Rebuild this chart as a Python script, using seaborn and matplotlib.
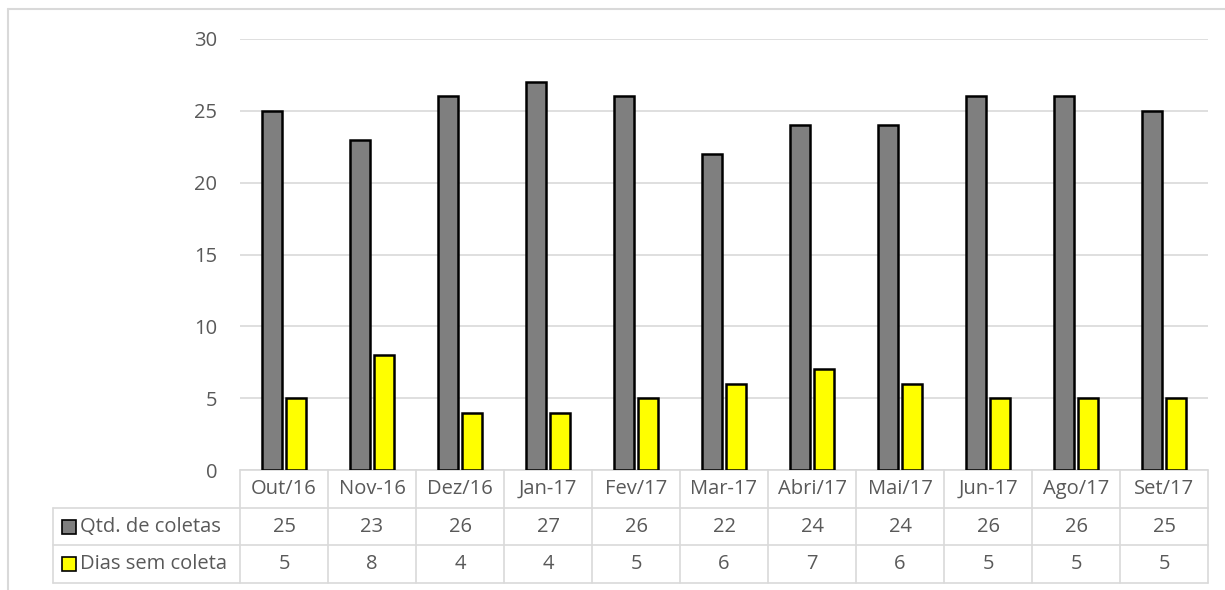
import matplotlib
matplotlib.use('Agg')
import matplotlib.pyplot as plt
import matplotlib.patches as mpatches
import numpy as np
import pandas as pd
import seaborn as sns

meses = ['Out/16', 'Nov-16', 'Dez/16', 'Jan-17', 'Fev/17', 'Mar-17', 'Abri/17',
         'Mai/17', 'Jun-17', 'Ago/17', 'Set/17']
qtd_coletas = [25, 23, 26, 27, 26, 22, 24, 24, 26, 26, 25]
dias_sem_coleta = [5, 8, 4, 4, 5, 6, 7, 6, 5, 5, 5]
series = ['Qtd. de coletas', 'Dias sem coleta']
cores = ['#7f7f7f', '#ffff00']

df = pd.DataFrame({'mes': meses * 2,
                   'valor': qtd_coletas + dias_sem_coleta,
                   'serie': [series[0]] * len(meses) + [series[1]] * len(meses)})

sns.set_style('white')
plt.rcParams['font.family'] = ['Open Sans', 'DejaVu Sans']
txt_col = '#595959'
grid_col = '#d9d9d9'
fs = 14.5

W, H = 1225, 590
fig = plt.figure(figsize=(W / 100, H / 100), dpi=100)
ax = fig.add_axes([240 / W, (H - 470) / H, 968 / W, 431 / H])

sns.barplot(data=df, x='mes', y='valor', hue='serie', order=meses, hue_order=series,
            palette=cores, saturation=1, edgecolor='black', linewidth=1.8, width=0.56, gap=0.18,
            legend=False, ax=ax, zorder=3)

ax.set_ylim(0, 30)
ax.set_xlim(-0.5, len(meses) - 0.5)
ax.set_yticks(range(0, 31, 5))
ax.yaxis.grid(True, color=grid_col, linewidth=1.2, zorder=0)
ax.set_axisbelow(True)
for s in ax.spines.values():
    s.set_visible(False)
ax.tick_params(axis='y', length=0, pad=16.5, labelsize=fs, labelcolor=txt_col)
ax.set_xticks([])
ax.set_xlabel('')
ax.set_ylabel('')

# tabela de dados abaixo do eixo
tr = ax.get_xaxis_transform()
rh = 37.7 / 431
left = -0.5 - (240 - 53) / 88.0
n = len(meses)
line_kw = dict(color=grid_col, linewidth=1.2, transform=tr, clip_on=False)

ax.plot([-0.5, n - 0.5], [0, 0], **line_kw)
ax.plot([left, n - 0.5], [-rh, -rh], **line_kw)
ax.plot([left, n - 0.5], [-2 * rh, -2 * rh], **line_kw)
ax.plot([left, n - 0.5], [-3 * rh, -3 * rh], **line_kw)
for i in range(n + 1):
    ax.plot([i - 0.5, i - 0.5], [0, -3 * rh], **line_kw)
ax.plot([left, left], [-rh, -3 * rh], **line_kw)

for i, m in enumerate(meses):
    ax.text(i, -0.5 * rh, m, ha='center', va='center', fontsize=fs, color=txt_col, transform=tr)
    ax.text(i, -1.5 * rh, str(qtd_coletas[i]), ha='center', va='center', fontsize=fs,
            color=txt_col, transform=tr)
    ax.text(i, -2.5 * rh, str(dias_sem_coleta[i]), ha='center', va='center', fontsize=fs,
            color=txt_col, transform=tr)

sq_w = 14 / 88.0
sq_h = 14 / 431
for k, (nome, cor) in enumerate(zip(series, cores)):
    yc = -(1.5 + k) * rh
    ax.add_patch(mpatches.Rectangle((left + 9 / 88.0, yc - sq_h / 2), sq_w, sq_h, facecolor=cor,
                                    edgecolor='black', linewidth=1.2, transform=tr, clip_on=False))
    ax.text(left + 27 / 88.0, yc, nome, ha='left', va='center', fontsize=fs, color=txt_col,
            transform=tr)

# borda da área do gráfico
fig.add_artist(plt.Line2D([8 / W, 1], [1 - 9 / H, 1 - 9 / H], color=grid_col, linewidth=1.5))
fig.add_artist(plt.Line2D([8 / W, 8 / W], [0, 1 - 9 / H], color=grid_col, linewidth=1.5))

fig.savefig('out.png', dpi=100)
